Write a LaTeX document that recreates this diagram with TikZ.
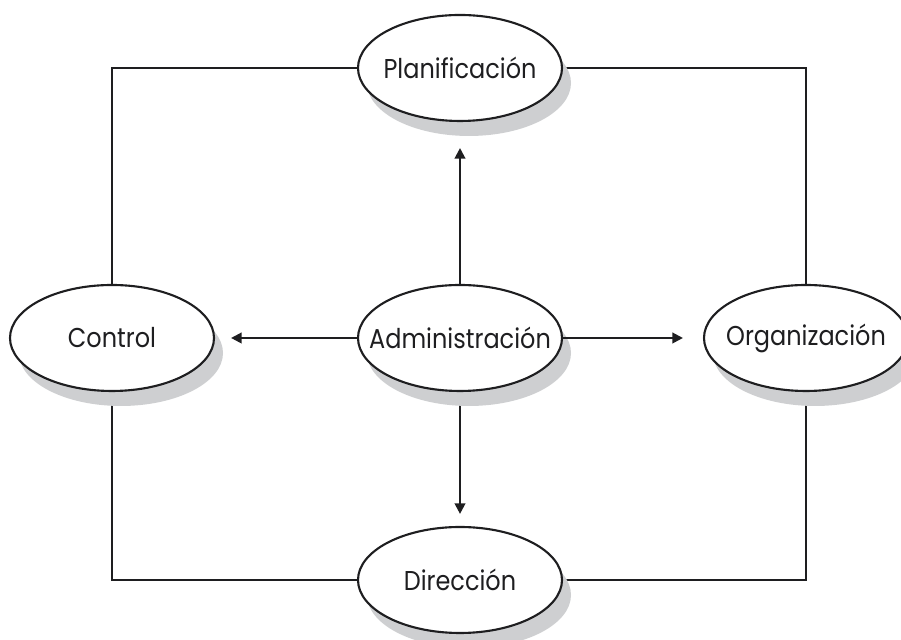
\documentclass[tikz,border=0pt]{standalone}
\usepackage{fontspec}
\setmainfont{Poppins}[FakeStretch=0.88]
\usepackage{tikz}
\usetikzlibrary{shapes.geometric,shadows,arrows.meta,backgrounds}
\definecolor{shadowgray}{RGB}{206,207,209}
\definecolor{inkblack}{RGB}{30,30,32}

\begin{document}
\begin{tikzpicture}[
  area/.style={ellipse,draw=inkblack,line width=1.2pt,fill=white,minimum width=4.08cm,minimum height=2.12cm,
    inner ysep=0pt,inner xsep=-1.2cm,
    font=\fontsize{15.5}{18}\selectfont,text=inkblack,
    drop shadow={shadow xshift=0.18cm,shadow yshift=-0.3cm,fill=shadowgray,opacity=1}},
  link/.style={draw=inkblack,line width=1.2pt},
  flow/.style={link,-{Triangle[length=6pt,width=6pt]}}
]
\useasboundingbox (0,0) rectangle (18.02,12.8);

\node[area] (plan) at (9.2,11.44) {Planificación};
\node[area] (ctrl) at (2.24,6.04) {Control};
\node[area] (admin) at (9.2,6.04) {Administración};
\node[area] (org) at (16.12,6.04) {Organización};
\node[area] (dir) at (9.2,1.2) {Dirección};

\begin{scope}[on background layer]
\draw[link] (plan.west) -| (ctrl.north);
\draw[link] (plan.east) -| (org.north);
\draw[link] (ctrl.south) |- (dir.west);
\draw[link] (org.south) |- (dir.east);
\draw[flow] (admin.south) -- ([yshift=0.24cm]dir.north);
\end{scope}

\draw[flow] (admin.north) -- ([yshift=-0.52cm]plan.south);
\draw[flow] (admin.west) -- ([xshift=0.32cm]ctrl.east);
\draw[flow] (admin.east) -- ([xshift=-0.4cm]org.west);

\end{tikzpicture}
\end{document}
